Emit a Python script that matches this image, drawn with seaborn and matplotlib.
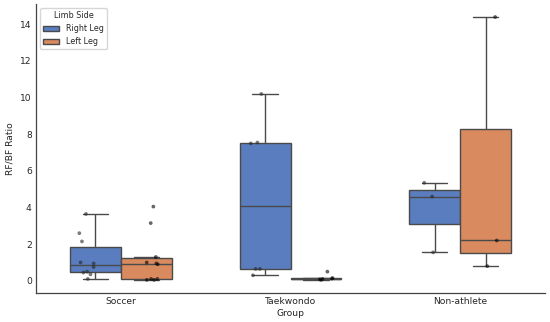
import numpy as np
import pandas as pd
import matplotlib
matplotlib.use("Agg")
import matplotlib.pyplot as plt
import seaborn as sns

np.random.seed(3)

groups = ["Soccer", "Taekwondo", "Non-athlete"]
sides = ["Right Leg", "Left Leg"]

soccer_right = [0.1, 0.35, 0.45, 0.5, 0.75, 0.95, 1.0, 2.15, 2.6, 3.65]
soccer_left = [0.05, 0.05, 0.1, 0.1, 0.9, 0.95, 1.0, 1.3, 3.15, 4.05]
tkd_right = [0.3, 0.65, 0.65, 7.5, 7.55, 10.2]
tkd_left = [0.05, 0.08, 0.1, 0.12, 0.15, 0.5]
non_right = [1.55, 4.6, 5.35]
non_left = [0.8, 2.2, 14.4]

rows = []
for g, s, vals in [
    ("Soccer", "Right Leg", soccer_right), ("Soccer", "Left Leg", soccer_left),
    ("Taekwondo", "Right Leg", tkd_right), ("Taekwondo", "Left Leg", tkd_left),
    ("Non-athlete", "Right Leg", non_right), ("Non-athlete", "Left Leg", non_left),
]:
    for v in vals:
        rows.append({"Group": g, "Limb Side": s, "RF/BF Ratio": v})
df = pd.DataFrame(rows)

sns.set_theme(style="white")
plt.rcParams['font.family'] = ['DejaVu Sans']

fig = plt.figure(figsize=(5.5, 3.22), dpi=100)
ax = fig.add_axes([0.0655, 0.09, 0.9255, 0.898])

sns.boxplot(data=df, x="Group", y="RF/BF Ratio", hue="Limb Side", order=groups,
            hue_order=sides, palette="muted", width=0.6, showfliers=False,
            linewidth=1, linecolor="#4a4a4a", ax=ax)
sns.stripplot(data=df, x="Group", y="RF/BF Ratio", hue="Limb Side", order=groups,
              hue_order=sides, dodge=True, color="black", size=2.7, alpha=0.6,
              jitter=0.1, legend=False, ax=ax)

sns.despine(ax=ax)
ax.tick_params(axis="both", labelsize=6.6, length=0, pad=3)
ax.set_xlabel("Group", fontsize=6.6, labelpad=2)
ax.set_ylabel("RF/BF Ratio", fontsize=6.6, labelpad=4)
leg = ax.legend(title="Limb Side", loc="upper left", fontsize=5.8, title_fontsize=5.8)
for sp in ["left", "bottom"]:
    ax.spines[sp].set_color("#444444")
    ax.spines[sp].set_linewidth(0.9)

fig.savefig("out.png", dpi=100)
